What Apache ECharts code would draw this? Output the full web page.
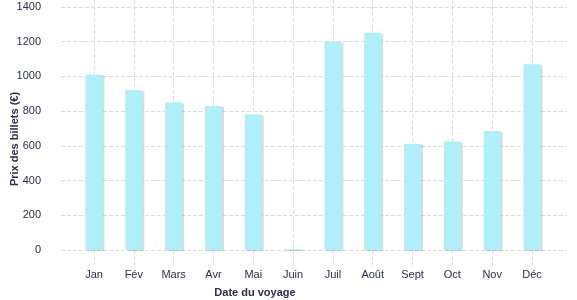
<!DOCTYPE html>
<html><head><meta charset="utf-8">
<script src="https://cdn.jsdelivr.net/npm/echarts@6/dist/echarts.min.js"></script>
<style>html,body{margin:0;padding:0;background:#fff}#c{width:577px;height:300px}</style>
</head><body><div id="c"></div>
<script>
var categories = ['Jan','Fév','Mars','Avr','Mai','Juin','Juil','Août','Sept','Oct','Nov','Déc'];
var prices = [1010, 920, 850, 830, 780, 5, 1200, 1250, 610, 625, 685, 1070];
var yTicks = [0, 200, 400, 600, 800, 1000, 1200, 1400];

var FONT = '"Liberation Sans", Arial, sans-serif';
var TXT = '#27304d';
var chart = echarts.init(document.getElementById('c'), null, {renderer: 'canvas'});
chart.setOption({
  animation: false,
  grid: [
    {left: 61, right: 10, top: 7, bottom: 50},
    {left: 94, right: 45, top: 0, bottom: 50}
  ],
  xAxis: [
    {gridIndex: 0, type: 'value', show: false},
    {gridIndex: 1, type: 'category', data: categories, boundaryGap: false,
     axisLine: {show: false},
     axisTick: {show: true, length: 15, lineStyle: {color: '#dddddd', type: 'dashed', width: 1}},
     axisLabel: {color: TXT, fontFamily: FONT, fontSize: 11, margin: 19},
     splitLine: {show: true, lineStyle: {color: '#dddddd', type: 'dashed', width: 1}}}
  ],
  yAxis: [
    {gridIndex: 0, type: 'value', min: yTicks[0], max: yTicks[yTicks.length-1], interval: 200,
     axisLine: {show: false}, axisTick: {show: false},
     axisLabel: {color: TXT, fontFamily: FONT, fontSize: 11, margin: 20, formatter: function (v) { return String(v); }},
     splitLine: {show: true, lineStyle: {color: '#dddddd', type: 'dashed', width: 1}}},
    {gridIndex: 1, type: 'value', min: 0, max: 1440, show: false, splitLine: {show: false}}
  ],
  series: [{
    type: 'bar', xAxisIndex: 1, yAxisIndex: 1, data: prices, barWidth: 17, clip: false,
    itemStyle: {color: '#aeeff9', shadowColor: 'rgba(0,0,0,0.14)', shadowOffsetX: 2, shadowOffsetY: 1, shadowBlur: 0}
  }],
  graphic: [
    {type: 'text', x: 255, y: 293, style: {text: 'Date du voyage', fill: TXT, font: 'bold 11px ' + FONT, align: 'center', verticalAlign: 'middle'}},
    {type: 'text', x: 15, y: 139, rotation: Math.PI/2,
     style: {text: 'Prix des billets (€)', fill: TXT, font: 'bold 11px ' + FONT, align: 'center', verticalAlign: 'middle'}}
  ]
});
</script></body></html>
